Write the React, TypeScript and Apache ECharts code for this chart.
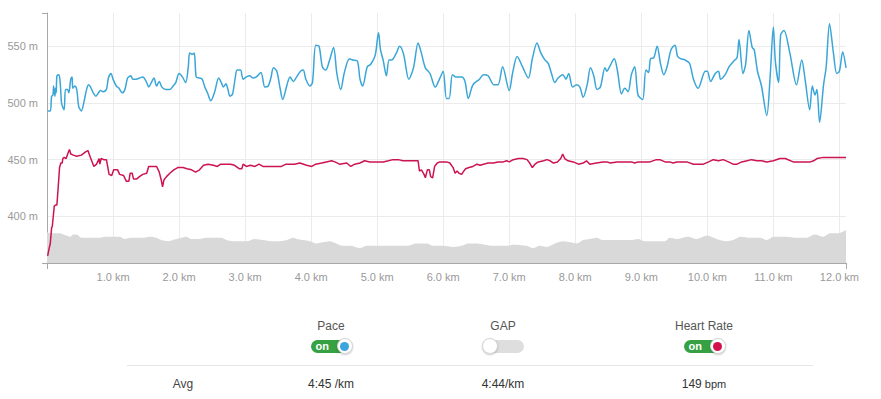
import React, { useEffect, useRef } from "react";
import * as echarts from "echarts";

// Distance (km) and chart-scale values
const paceKm = [0.01,0.05,0.07,0.09,0.10,0.12,0.13,0.14,0.15,0.18,0.20,0.22,0.24,0.26,0.28,0.31,0.33,0.36,0.38,0.39,0.42,0.45,0.48,0.52,0.56,0.60,0.63,0.66,0.70,0.74,0.78,0.81,0.85,0.90,0.93,0.97,1.00,1.05,1.09,1.14,1.18,1.22,1.27,1.30,1.35,1.40,1.45,1.51,1.54,1.58,1.62,1.66,1.70,1.74,1.80,1.86,1.91,1.95,2.00,2.05,2.10,2.14,2.16,2.20,2.23,2.26,2.31,2.35,2.39,2.43,2.48,2.54,2.60,2.64,2.67,2.71,2.74,2.77,2.81,2.85,2.88,2.93,2.97,3.02,3.07,3.12,3.17,3.24,3.30,3.35,3.39,3.43,3.48,3.53,3.57,3.63,3.68,3.73,3.78,3.84,3.88,3.92,3.98,4.02,4.07,4.12,4.17,4.22,4.28,4.34,4.39,4.45,4.50,4.58,4.63,4.70,4.74,4.78,4.85,4.90,4.97,5.02,5.05,5.09,5.14,5.18,5.22,5.29,5.34,5.40,5.48,5.55,5.62,5.67,5.73,5.80,5.88,5.95,6.00,6.05,6.09,6.14,6.19,6.28,6.33,6.38,6.45,6.55,6.61,6.68,6.77,6.83,6.90,7.00,7.05,7.12,7.20,7.29,7.35,7.42,7.48,7.54,7.59,7.64,7.69,7.74,7.81,7.86,7.90,7.96,8.02,8.07,8.12,8.18,8.23,8.28,8.33,8.38,8.45,8.48,8.52,8.59,8.64,8.70,8.75,8.80,8.85,8.90,8.95,9.02,9.07,9.11,9.14,9.19,9.24,9.29,9.34,9.39,9.45,9.51,9.55,9.60,9.66,9.73,9.79,9.86,9.97,10.00,10.05,10.12,10.17,10.20,10.27,10.33,10.40,10.45,10.48,10.54,10.58,10.63,10.68,10.71,10.76,10.82,10.90,10.95,11.00,11.03,11.08,11.11,11.16,11.25,11.35,11.43,11.48,11.55,11.59,11.63,11.66,11.70,11.76,11.80,11.85,11.91,11.96,12.00,12.05,12.10];
const paceValues = [493,493,506,507,515,506,513,509,524,525,518,500,496,494,512,512,509,521,523,513,515,512,497,493,501,512,516,514,509,506,509,511,510,512,522,526,521,515,513,509,512,522,524,521,521,522,523,518,514,518,522,515,519,514,512,512,515,518,526,523,518,532,544,543,544,523,522,521,514,509,502,510,522,518,514,517,512,506,508,522,529,529,521,523,524,522,523,527,514,515,522,531,528,513,503,515,523,519,523,528,529,521,515,518,551,550,532,529,538,549,526,512,526,539,538,537,521,515,532,534,542,562,547,538,524,538,538,544,550,543,521,531,553,544,531,526,514,522,528,504,504,525,523,523,519,504,516,521,525,524,516,516,532,511,526,541,532,522,539,553,544,538,535,526,518,522,525,521,526,514,516,514,505,516,531,524,512,514,531,528,532,539,528,508,513,510,525,532,507,503,529,527,539,540,550,535,525,532,547,551,541,539,538,535,521,513,528,528,519,526,528,521,525,532,537,540,556,526,534,564,549,547,528,515,489,522,567,537,518,560,564,544,516,538,521,494,515,507,512,483,516,532,570,544,526,528,545,531];

const hrKm = [0.01,0.03,0.05,0.07,0.08,0.11,0.13,0.15,0.17,0.19,0.21,0.23,0.24,0.26,0.29,0.32,0.34,0.36,0.40,0.45,0.52,0.59,0.62,0.65,0.71,0.75,0.79,0.80,0.82,0.86,0.90,0.94,0.98,1.01,1.07,1.10,1.16,1.20,1.24,1.26,1.29,1.31,1.36,1.40,1.45,1.51,1.54,1.61,1.66,1.70,1.73,1.75,1.77,1.81,1.86,1.92,1.98,2.06,2.12,2.19,2.25,2.31,2.37,2.44,2.52,2.58,2.63,2.72,2.78,2.84,2.91,2.95,2.97,3.02,3.08,3.15,3.21,3.27,3.35,3.42,3.48,3.55,3.62,3.68,3.75,3.83,3.93,4.01,4.07,4.16,4.23,4.31,4.36,4.43,4.54,4.60,4.66,4.74,4.81,4.89,4.99,5.09,5.17,5.24,5.32,5.39,5.50,5.57,5.62,5.64,5.67,5.71,5.73,5.76,5.79,5.81,5.84,5.87,5.91,5.95,6.00,6.05,6.10,6.15,6.18,6.21,6.24,6.28,6.30,6.34,6.39,6.45,6.51,6.56,6.61,6.68,6.76,6.83,6.91,6.96,7.00,7.06,7.14,7.21,7.27,7.31,7.35,7.39,7.44,7.52,7.57,7.62,7.67,7.73,7.78,7.81,7.84,7.89,7.97,8.05,8.12,8.17,8.22,8.32,8.42,8.48,8.53,8.63,8.73,8.80,8.85,8.90,8.95,9.03,9.13,9.23,9.28,9.36,9.43,9.48,9.54,9.61,9.69,9.79,9.86,9.94,10.02,10.09,10.17,10.24,10.32,10.39,10.45,10.52,10.60,10.67,10.75,10.82,10.90,11.00,11.10,11.18,11.30,11.40,11.48,11.56,11.61,11.66,11.76,11.86,11.96,12.04,12.10];
const hrValues = [365,371,376,390,391,409,410,410,426,443,447,447,451,452,451,456,459,455,454,453,454,457,458,453,444,446,451,446,451,450,450,437,436,441,441,437,436,431,431,438,438,433,433,435,437,438,444,444,444,439,432,426,432,435,438,441,443,443,442,441,439,441,445,446,445,444,446,446,446,445,442,442,446,444,445,444,446,444,444,444,444,444,446,446,446,447,445,444,446,447,448,449,448,446,447,444,446,447,449,448,448,448,449,450,450,449,449,449,449,440,441,437,434,441,441,435,434,444,447,448,448,448,447,443,438,440,438,437,439,442,443,444,446,445,446,447,447,448,448,449,448,450,451,451,450,447,443,446,448,449,450,449,447,448,451,455,451,449,448,446,447,449,446,447,448,448,447,448,448,448,448,447,448,448,448,450,450,448,448,447,448,448,448,446,446,446,448,450,449,450,448,446,446,448,449,450,449,449,448,449,451,451,448,448,448,448,449,451,452,452,452,452,452];

const elevKm = [0,0.07,0.19,0.29,0.35,0.40,0.45,0.52,0.60,0.80,0.87,0.98,1.10,1.18,1.26,1.35,1.45,1.56,1.66,1.73,1.83,1.96,2.04,2.10,2.19,2.31,2.42,2.54,2.64,2.72,2.82,3.02,3.15,3.27,3.40,3.53,3.63,3.73,3.78,3.88,3.98,4.08,4.18,4.28,4.38,4.48,4.59,4.74,4.84,5.04,5.24,5.45,5.60,5.75,5.85,6.00,6.15,6.28,6.38,6.51,6.63,6.76,6.96,7.06,7.26,7.36,7.46,7.57,7.69,7.82,7.92,8.02,8.12,8.22,8.32,8.42,8.58,8.73,8.85,8.95,9.06,9.23,9.36,9.43,9.53,9.71,9.84,10.00,10.14,10.29,10.39,10.50,10.65,10.80,10.90,11.00,11.20,11.35,11.50,11.63,11.76,11.86,11.98,12.10];
const elevValues = [386,385,385,383,382,384,384,381,381,381,382,382,382,380,381,381,381,382,381,379,378,380,381,382,380,380,381,381,381,379,378,378,380,379,378,378,379,381,380,379,378,376,377,378,376,374,374,372,374,374,374,374,376,376,374,374,373,374,376,376,375,374,374,375,374,372,374,373,376,378,377,376,379,380,381,379,379,379,379,380,378,378,378,381,380,382,380,383,380,378,379,382,381,381,379,382,382,381,381,384,382,385,385,388];

const yMin = 358.8;
const yMax = 579.4;
const xMin = 0;
const xMax = 12.1;

const toggles = [
  { label: "Pace", on: true, dot: "#3aa6dc", avg: "4:45", unit: " /km" },
  { label: "GAP", on: false, dot: "", avg: "4:44", unit: "/km" },
  { label: "Heart Rate", on: true, dot: "#d4104a", avg: "149", unit: " bpm" },
];

const FONT = "'Liberation Sans', Arial, Helvetica, sans-serif";

const zip = (a: number[], b: number[]) =>
  a.slice(0, Math.min(a.length, b.length)).map((x, i) => [x, b[i]]);

function Toggle({ on, dot, cx, cy }: { on: boolean; dot: string; cx: number; cy: number }) {
  const w = 41;
  const h = 13;
  const k = 16;
  const left = cx - w / 2;
  return (
    <>
      <div
        style={{
          position: "absolute",
          left,
          top: cy - h / 2,
          width: w,
          height: h,
          borderRadius: h / 2,
          background: on ? "#36a143" : "#dedede",
        }}
      />
      {on && (
        <div
          style={{
            position: "absolute",
            left: left + 5,
            top: cy - h / 2,
            height: h,
            lineHeight: h + "px",
            fontSize: 11,
            fontWeight: "bold",
            color: "#fff",
          }}
        >
          on
        </div>
      )}
      <div
        style={{
          position: "absolute",
          left: on ? left + w + 1 - k : left - 1,
          top: cy - k / 2,
          width: k,
          height: k,
          boxSizing: "border-box",
          borderRadius: "50%",
          background: "#fff",
          border: "1px solid #d6d6d6",
          boxShadow: "0 1px 2px rgba(0,0,0,0.2)",
        }}
      >
        {on && (
          <div
            style={{
              position: "absolute",
              left: (k - 2 - 9) / 2,
              top: (k - 2 - 9) / 2,
              width: 9,
              height: 9,
              borderRadius: "50%",
              background: dot,
            }}
          />
        )}
      </div>
    </>
  );
}

export default function App() {
  const ref = useRef<HTMLDivElement>(null);
  useEffect(() => {
    if (!ref.current) return;
    const chart = echarts.init(ref.current, null, { renderer: "svg" });
    const axisColor = "#a8a8a8";
    chart.setOption({
      animation: false,
      textStyle: { fontFamily: FONT },
      grid: { left: 47, top: 13, right: 35, bottom: 37 },
      xAxis: [
        {
          type: "value",
          min: xMin,
          max: xMax,
          minInterval: 1,
          maxInterval: 1,
          axisLine: { show: true, lineStyle: { color: axisColor, width: 1 } },
          axisTick: { show: false },
          axisLabel: {
            color: "#999",
            fontSize: 11,
            margin: 8,
            showMinLabel: false,
            showMaxLabel: false,
            formatter: (v: number) => v.toFixed(1) + " km",
          },
          splitLine: { show: true, showMinLine: false, showMaxLine: false, lineStyle: { color: "#ebebeb" } },
        },
        {
          type: "value",
          min: xMin,
          max: xMax,
          position: "bottom",
          axisLine: { show: false },
          axisTick: { show: true, length: 6, customValues: [xMin, xMax], lineStyle: { color: axisColor } },
          axisLabel: { show: false },
          splitLine: { show: false },
        },
      ],
      yAxis: [
        {
          type: "value",
          min: yMin,
          max: yMax,
          minInterval: 50,
          maxInterval: 50,
          axisLine: { show: false },
          axisTick: { show: false },
          axisLabel: {
            color: "#999",
            fontSize: 11,
            margin: 9,
            showMinLabel: false,
            showMaxLabel: false,
            formatter: (v: number) => Math.round(v) + " m",
          },
          splitLine: { show: true, showMinLine: false, showMaxLine: false, lineStyle: { color: "#ebebeb" } },
        },
        {
          type: "value",
          min: yMin,
          max: yMax,
          position: "left",
          axisLine: { show: true, lineStyle: { color: axisColor, width: 1 } },
          axisTick: { show: true, length: 5, customValues: [yMin, yMax], lineStyle: { color: axisColor } },
          axisLabel: { show: false },
          splitLine: { show: false },
        },
      ],
      series: [
        {
          name: "Elevation",
          type: "line",
          data: zip(elevKm, elevValues),
          symbol: "none",
          smooth: 0.3,
          lineStyle: { width: 0 },
          areaStyle: { color: "#d9d9d9", opacity: 1, origin: "start" },
          z: 1,
        },
        {
          name: "Heart Rate",
          type: "line",
          data: zip(hrKm, hrValues),
          symbol: "none",
          lineStyle: { color: "#cc1450", width: 1.5 },
          z: 3,
        },
        {
          name: "Pace",
          type: "line",
          data: zip(paceKm, paceValues),
          symbol: "none",
          smooth: 0.3,
          lineStyle: { color: "#3aa6d8", width: 1.5 },
          z: 4,
        },
      ],
    });
    return () => chart.dispose();
  }, []);

  const colX = [331, 503, 704];
  return (
    <div
      style={{
        position: "absolute",
        left: 0,
        top: 0,
        width: 881,
        height: 399,
        background: "#fff",
        fontFamily: FONT,
        overflow: "hidden",
      }}
    >
      <div ref={ref} style={{ position: "absolute", left: 0, top: 0, width: 881, height: 300 }} />
      {toggles.map((t, i) => (
        <React.Fragment key={t.label}>
          <div
            style={{
              position: "absolute",
              left: colX[i] - 60,
              width: 120,
              top: 319,
              height: 14,
              lineHeight: "14px",
              textAlign: "center",
              fontSize: 12,
              color: "#555",
            }}
          >
            {t.label}
          </div>
          <Toggle on={t.on} dot={t.dot} cx={colX[i]} cy={346} />
          <div
            style={{
              position: "absolute",
              left: colX[i] - 60,
              width: 120,
              top: 377,
              height: 14,
              lineHeight: "14px",
              textAlign: "center",
              fontSize: 12,
              color: "#333",
            }}
          >
            {t.avg}
            <span style={{ fontSize: t.unit.includes("bpm") ? 11 : 12 }}>{t.unit}</span>
          </div>
        </React.Fragment>
      ))}
      <div style={{ position: "absolute", left: 127, top: 365, width: 686, height: 1, background: "#e6e6e6" }} />
      <div
        style={{
          position: "absolute",
          left: 143,
          width: 80,
          top: 377,
          height: 14,
          lineHeight: "14px",
          textAlign: "center",
          fontSize: 12,
          color: "#444",
        }}
      >
        Avg
      </div>
    </div>
  );
}
